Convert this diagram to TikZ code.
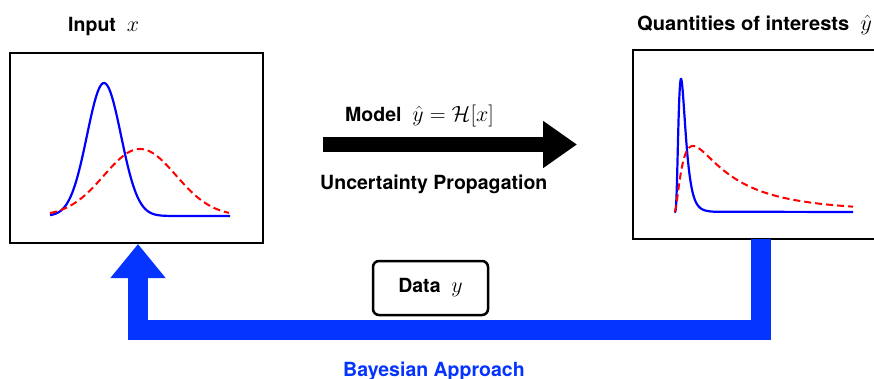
\RequirePackage{fix-cm}
\documentclass[tikz,border=0pt]{standalone}
\usepackage{fontspec}
\setmainfont{TeX Gyre Heros}
\usetikzlibrary{arrows.meta}

\definecolor{bayesblue}{RGB}{5,51,255}
\newcommand{\bigmath}[1]{{\fontsize{22}{26}\selectfont\mdseries$#1$}}

\tikzset{
    plotbox/.style={draw, line width=1.6pt, inner sep=0pt},
    label text/.style={font=\fontsize{19.5}{23}\selectfont\bfseries, inner sep=0pt},
    prior/.style={blue, line width=2.2pt},
    posterior/.style={red, line width=2pt, dash pattern=on 7pt off 4pt},
    modelarrow/.style={line width=15pt, -{Triangle[width=45pt, length=34pt]}},
    feedback/.style={bayesblue, line width=20pt, line join=miter,
        -{Triangle[width=53pt, length=34pt]}},
    databox/.style={draw, line width=2.5pt, rounded corners=6pt,
        minimum width=115pt, minimum height=54pt}
}

\begin{document}
\begin{tikzpicture}[x=1pt, y=-1pt]

    \useasboundingbox (0,0) rectangle (874,379);

    % Boxes
    \node[plotbox, minimum width=253pt, minimum height=190pt] (inbox) at (136.5,148) {};
    \node[plotbox, minimum width=260pt, minimum height=189pt] (qoibox) at (763,144.5) {};

    % Titles
    \node[label text, anchor=base west] (intitle) at (68,32) {Input \ \bigmath{x}};
    \node[label text, anchor=base west, xscale=1.03] (qoititle) at (637,31) {Quantities of interests \ \bigmath{\hat{y}}};

    % Input distributions
    \draw[prior] plot[domain=50:230, samples=120, smooth]
        (\x,{216-133*exp(-((\x-104)^2)/578)});
    \draw[posterior] plot[domain=50:229, samples=100, smooth]
        (\x,{216-67*exp(-((\x-140)^2)/2592)});

    % Output distributions
    \draw[prior] plot[domain=0.5:40, samples=150, smooth]
        ({674+\x},{212-1055/\x*exp(-((ln(\x)-2.196)^2)/0.5)}) -- (853,212);
    \draw[posterior] plot[domain=0.5:179, samples=200, smooth]
        ({674+\x},{212-2067.5/\x*exp(-((ln(\x)-3.944)^2)/2)});

    % Model
    \coordinate (mstart) at (323,144.5);
    \coordinate (mend) at (577,144.5);
    \draw[modelarrow] (mstart) -- (mend);
    \node[label text, anchor=base west] (model) at (345,122) {Model \ \bigmath{\hat{y} = \mathcal{H}[x]}};
    \node[label text, anchor=base west] (prop) at (320,190) {Uncertainty Propagation};

    % Bayesian loop
    \coordinate (fbstart) at (761,239);
    \coordinate (fbtip) at (138,244);
    \draw[feedback] (fbstart) -- ++(0,90.5) -| (fbtip);
    \node[databox, label text] (data) at (430.5,288) {Data \ \bigmath{y}};
    \node[label text, anchor=base west, text=bayesblue] (bayes) at (343,376) {Bayesian Approach};

\end{tikzpicture}
\end{document}
